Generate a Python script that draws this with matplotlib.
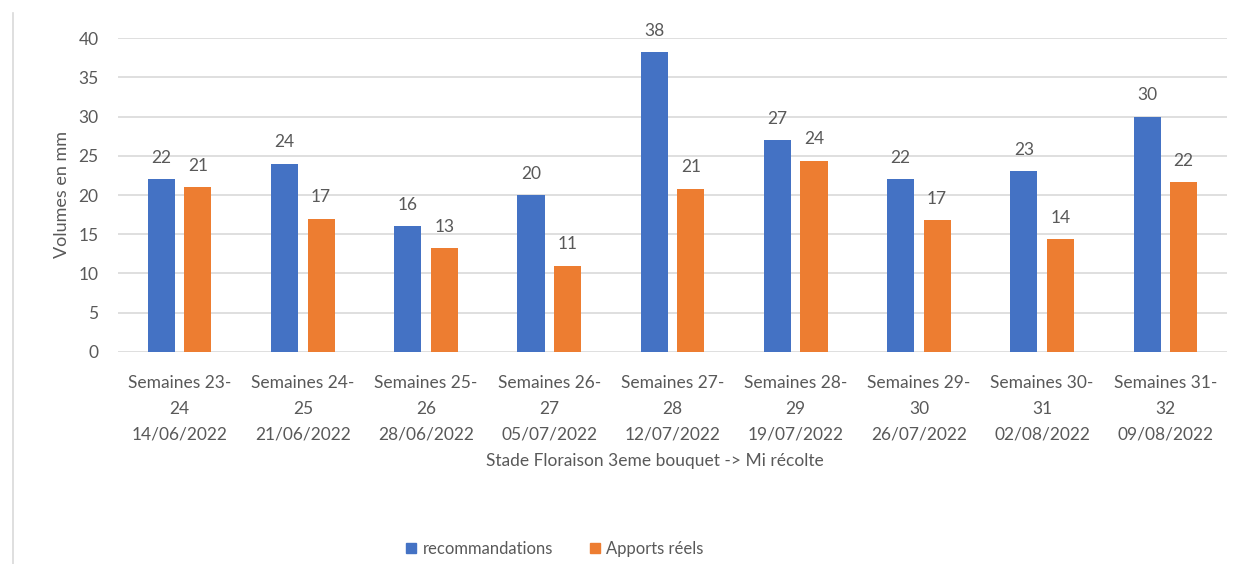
import matplotlib
matplotlib.use("Agg")
import matplotlib.pyplot as plt
import numpy as np
from matplotlib.lines import Line2D
from matplotlib.patches import Patch

categories = [
    "Semaines 23-\n24\n14/06/2022",
    "Semaines 24-\n25\n21/06/2022",
    "Semaines 25-\n26\n28/06/2022",
    "Semaines 26-\n27\n05/07/2022",
    "Semaines 27-\n28\n12/07/2022",
    "Semaines 28-\n29\n19/07/2022",
    "Semaines 29-\n30\n26/07/2022",
    "Semaines 30-\n31\n02/08/2022",
    "Semaines 31-\n32\n09/08/2022",
]
recommandations = [22, 24, 16, 20, 38.2, 27, 22, 23, 30]
apports_reels = [21, 17, 13.2, 11, 20.8, 24.4, 16.8, 14.4, 21.6]
yticks = [0, 5, 10, 15, 20, 25, 30, 35, 40]

BLUE = "#4472C4"
ORANGE = "#ED7D31"
TXT = "#595959"
GRID = "#D9D9D9"

plt.rcParams['font.family'] = ['Lato', 'DejaVu Sans']

fig = plt.figure(figsize=(12.43, 5.64), dpi=100)
ax = fig.add_axes([118/1243, 1 - 351.7/564, (1227-118)/1243, (351.7-38.3)/564])

x = np.arange(len(categories))
w = 0.22
off = 0.148
b1 = ax.bar(x - off, recommandations, w, color=BLUE, zorder=3)
b2 = ax.bar(x + off, apports_reels, w, color=ORANGE, zorder=3)

for bars in (b1, b2):
    for r in bars:
        h = r.get_height()
        ax.text(r.get_x() + r.get_width()/2, h + 1.7, f"{h:.0f}", ha="center", va="bottom",
                fontsize=12.5, color=TXT, clip_on=False)

ax.set_xlim(-0.5, len(categories) - 0.5)
ax.set_ylim(0, 40)
ax.set_yticks(yticks)
ax.yaxis.grid(True, color=GRID, linewidth=1.2, zorder=0)
ax.set_axisbelow(True)
for s in ax.spines.values():
    s.set_visible(False)
ax.tick_params(axis="both", length=0, colors=TXT, labelsize=12.5)
ax.tick_params(axis="y", pad=14)
ax.tick_params(axis="x", pad=17)
ax.set_xticks(x)
ax.set_xticklabels(categories, linespacing=1.75, fontsize=12.5)
ax.set_ylabel("Volumes en mm", fontsize=13, color=TXT, labelpad=6)

fig.text(655/1243, 1 - 461/564, "Stade Floraison 3eme bouquet -> Mi récolte",
         ha="center", va="center", fontsize=12.5, color=TXT)

handles = [Patch(color=BLUE), Patch(color=ORANGE)]
fig.legend(handles, ["recommandations", "Apports réels"], loc="center",
           bbox_to_anchor=(555/1243, 1 - 549/564), ncol=2, frameon=False,
           fontsize=12, labelcolor=TXT, handlelength=0.6, handleheight=0.6,
           handletextpad=0.4, columnspacing=2.2)

fig.add_artist(Line2D([12.5/1243, 12.5/1243], [0, 1 - 13/564], color=GRID,
                      linewidth=1.2, transform=fig.transFigure))

fig.savefig("out.png", dpi=100, facecolor="white")
